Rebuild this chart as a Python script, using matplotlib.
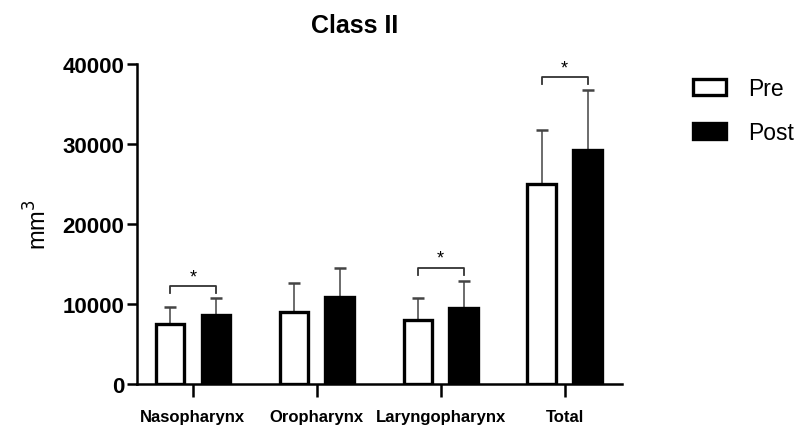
import matplotlib.pyplot as plt
import numpy as np

plt.rcParams['font.family'] = ['Liberation Sans', 'DejaVu Sans']

regions = ["Nasopharynx", "Oropharynx", "Laryngopharynx", "Total"]
pre_mean = [7400, 9000, 8000, 25000]
pre_sd = [2200, 3600, 2700, 6800]
post_mean = [8600, 10800, 9500, 29300]
post_sd = [2100, 3700, 3300, 7400]
# significance brackets: (category index, height)
sig_idx = [0, 2, 3]
sig_y = [12200, 14500, 38400]

x = np.arange(len(regions))
off = 0.185
w = 0.23

fig = plt.figure(figsize=(7.97, 4.27), dpi=100)
ax = fig.add_axes([0.172, 0.0995, 0.608, 0.748])

ax.bar(x - off, pre_mean, w, color="white", edgecolor="black", linewidth=2.4, label="Pre", zorder=3)
ax.bar(x + off, post_mean, w, color="black", edgecolor="black", linewidth=2.4, label="Post", zorder=3)
ax.errorbar(x - off, pre_mean, yerr=[np.zeros(4), pre_sd], fmt="none", ecolor="#444444",
            elinewidth=1.1, capsize=4.5, capthick=1.8, zorder=2)
ax.errorbar(x + off, post_mean, yerr=[np.zeros(4), post_sd], fmt="none", ecolor="#444444",
            elinewidth=1.1, capsize=4.5, capthick=1.8, zorder=2)

for i, h in zip(sig_idx, sig_y):
    x0, x1 = i - off, i + off
    ax.plot([x0, x0, x1, x1], [h - 900, h, h, h - 900], color="#333333", lw=1.3)
    ax.text(i, h + 100, "*", ha="center", va="bottom", fontsize=13)

ax.set_xlim(-0.45, 3.46)
ax.set_ylim(0, 40000)
ax.set_yticks([0, 10000, 20000, 30000, 40000])
ax.set_xticks(x)
ax.set_xticklabels(regions, fontsize=12, fontweight="bold")
for lab in ax.get_yticklabels():
    lab.set_fontweight("bold")
    lab.set_fontsize(16)
ax.tick_params(axis="y", width=1.8, length=7, pad=2)
ax.tick_params(axis="x", width=1.8, length=9, pad=9)
for s in ["top", "right"]:
    ax.spines[s].set_visible(False)
for s in ["left", "bottom"]:
    ax.spines[s].set_linewidth(1.8)

ax.set_ylabel("mm$^3$", fontsize=17, labelpad=8)
fig.text(0.445, 0.94, "Class II", ha="center", va="center", fontsize=18, fontweight="bold")

fig.legend(*ax.get_legend_handles_labels(), loc="upper left", bbox_to_anchor=(0.8695, 0.817),
           frameon=False, fontsize=16.5, borderpad=0, borderaxespad=0,
           handlelength=1.45, handleheight=0.7, labelspacing=0.9, handletextpad=0.95)

fig.savefig("out.png", dpi=100)
